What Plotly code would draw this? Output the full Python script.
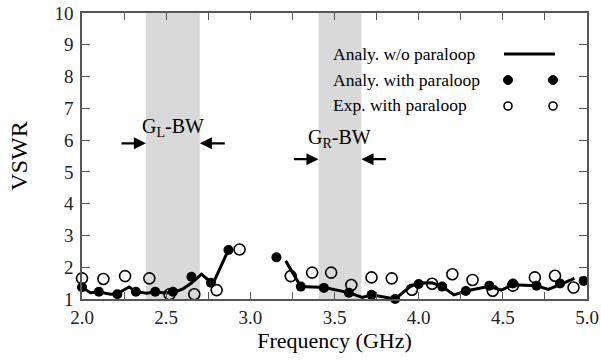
import plotly.graph_objects as go

# ---------------- data ----------------
# Analytical without paraloop (solid line, two segments)
line_left_x = [2.0, 2.05, 2.1, 2.17, 2.21, 2.28, 2.32, 2.385, 2.435, 2.48, 2.54, 2.60, 2.65, 2.71, 2.75, 2.78, 2.87]
line_left_y = [1.37, 1.2, 1.22, 1.15, 1.17, 1.38, 1.23, 1.18, 1.23, 1.2, 1.2, 1.32, 1.5, 1.78, 1.6, 1.5, 2.55]
line_right_x = [3.21, 3.30, 3.44, 3.585, 3.665, 3.72, 3.86, 3.95, 4.0, 4.08, 4.14, 4.21, 4.28, 4.42, 4.49, 4.56, 4.70, 4.77, 4.84, 4.925]
line_right_y = [2.2, 1.39, 1.36, 1.2, 1.05, 1.13, 1.0, 1.39, 1.5, 1.51, 1.39, 1.13, 1.25, 1.4, 1.28, 1.45, 1.42, 1.3, 1.45, 1.65]

# Analytical with paraloop (filled dots)
analy_x = [2.0, 2.10, 2.21, 2.32, 2.435, 2.54, 2.65, 2.766, 2.87, 3.155, 3.30, 3.437, 3.585, 3.72, 3.86,
           4.0, 4.14, 4.28, 4.42, 4.56, 4.70, 4.84, 4.98]
analy_y = [1.37, 1.23, 1.15, 1.23, 1.23, 1.23, 1.70, 1.51, 2.54, 2.31, 1.39, 1.35, 1.2, 1.13, 1.0,
           1.47, 1.39, 1.25, 1.42, 1.49, 1.42, 1.49, 1.57]

# Experiment with paraloop (open circles)
exp_x = [2.0, 2.127, 2.256, 2.40, 2.52, 2.667, 2.80, 2.936, 3.24, 3.367, 3.48, 3.60, 3.72, 3.84, 3.96,
         4.08, 4.20, 4.32, 4.44, 4.56, 4.69, 4.81, 4.92]
exp_y = [1.65, 1.63, 1.72, 1.65, 1.15, 1.15, 1.28, 2.56, 1.72, 1.83, 1.83, 1.44, 1.68, 1.65, 1.29,
         1.48, 1.78, 1.60, 1.26, 1.42, 1.68, 1.73, 1.36]

# Bandwidth regions (GHz)
band_GL = [2.38, 2.70]
band_GR = [3.405, 3.66]

x_tick_vals = [2.0, 2.5, 3.0, 3.5, 4.0, 4.5, 5.0]
x_tick_text = ["2.0", "2.5", "3.0", "3.5", "4.0", "4.5", "5.0"]
y_tick_vals = [1, 2, 3, 4, 5, 6, 7, 8, 9, 10]

legend_labels = ["Analy. w/o paraloop", "Analy. with paraloop", "Exp. with paraloop"]

FONT = "'Liberation Serif', 'Times New Roman', Times, serif"

fig = go.Figure()

# line with a gap
fig.add_trace(go.Scatter(
    x=line_left_x + [None] + line_right_x,
    y=line_left_y + [None] + line_right_y,
    mode="lines", line=dict(color="black", width=3),
    connectgaps=False, showlegend=False, cliponaxis=False))

fig.add_trace(go.Scatter(
    x=exp_x, y=exp_y, mode="markers",
    marker=dict(symbol="circle-open", size=11, color="black", line=dict(width=1.6)),
    showlegend=False, cliponaxis=False))

fig.add_trace(go.Scatter(
    x=analy_x, y=analy_y, mode="markers",
    marker=dict(symbol="circle", size=10, color="black"),
    showlegend=False, cliponaxis=False))

shapes = []
for b in (band_GL, band_GR):
    shapes.append(dict(type="rect", xref="x", yref="paper", x0=b[0], x1=b[1], y0=0, y1=1,
                       fillcolor="#d9d9d9", line=dict(width=0), layer="below"))

# legend keys (paper coords)
px0, px1 = 82, 587
py0, py1 = 299, 13
def pxx(p):
    return (p - px0) / (px1 - px0)
def pyy(p):
    return (py0 - p) / (py0 - py1)

shapes.append(dict(type="line", xref="paper", yref="paper",
                   x0=pxx(504), x1=pxx(555), y0=pyy(54), y1=pyy(54),
                   line=dict(color="black", width=3)))
for cx in (508, 553):
    r = 4.5
    shapes.append(dict(type="circle", xref="paper", yref="paper",
                       x0=pxx(cx - r), x1=pxx(cx + r), y0=pyy(80 + r), y1=pyy(80 - r),
                       fillcolor="black", line=dict(color="black", width=1)))
    r = 4
    shapes.append(dict(type="circle", xref="paper", yref="paper",
                       x0=pxx(cx - r), x1=pxx(cx + r), y0=pyy(106 + r), y1=pyy(106 - r),
                       fillcolor="rgba(0,0,0,0)", line=dict(color="black", width=1.6)))

annotations = []
for lbl, yy in zip(legend_labels, (54, 80, 105)):
    annotations.append(dict(text=lbl, xref="paper", yref="paper", x=pxx(331), y=pyy(yy),
                            xanchor="left", yanchor="middle", showarrow=False,
                            font=dict(family=FONT, size=17.5, color="black")))

# bandwidth arrows
arrow_common = dict(showarrow=True, arrowhead=2, arrowsize=1.1, arrowwidth=2.2,
                    arrowcolor="black", axref="x", ayref="y", xref="x", yref="y", text="")
annotations += [
    dict(x=band_GL[0], y=5.9, ax=2.226, ay=5.9, **arrow_common),
    dict(x=band_GL[1], y=5.9, ax=2.857, ay=5.9, **arrow_common),
    dict(x=band_GR[0], y=5.4, ax=3.25, ay=5.4, **arrow_common),
    dict(x=band_GR[1], y=5.4, ax=3.815, ay=5.4, **arrow_common),
]
annotations += [
    dict(text="G<sub>L</sub>-BW", x=sum(band_GL) / 2, y=6.4, xref="x", yref="y",
         showarrow=False, font=dict(family=FONT, size=20, color="black")),
    dict(text="G<sub>R</sub>-BW", x=sum(band_GR) / 2, y=6.05, xref="x", yref="y",
         showarrow=False, font=dict(family=FONT, size=20, color="black")),
]

axis_color = "#555555"
fig.update_layout(
    width=601, height=363,
    margin=dict(l=82, r=14, t=13, b=64, autoexpand=False),
    plot_bgcolor="white", paper_bgcolor="white",
    shapes=shapes, annotations=annotations,
    font=dict(family=FONT, color="black"),
    xaxis=dict(range=[2.0, 5.0], tickvals=x_tick_vals, ticktext=x_tick_text,
               ticks="inside", ticklen=7, tickwidth=1.3, tickcolor=axis_color,
               minor=dict(dtick=0.25, tick0=2.0, ticks="inside", ticklen=7, tickwidth=1.3,
                          tickcolor=axis_color, showgrid=False),
               showline=True, linecolor=axis_color, linewidth=1.5, mirror="allticks",
               showgrid=False, zeroline=False, automargin=False,
               tickfont=dict(family=FONT, size=19, color="#222"),
               title=dict(text="Frequency (GHz)", font=dict(family=FONT, size=22, color="black"),
                          standoff=6)),
    yaxis=dict(range=[1, 10], tickvals=y_tick_vals,
               ticks="inside", ticklen=8, tickwidth=1.3, tickcolor=axis_color,
               showline=True, linecolor=axis_color, linewidth=1.5, mirror="allticks",
               showgrid=False, zeroline=False, automargin=False, ticklabelstandoff=3,
               tickfont=dict(family=FONT, size=19, color="#222"),
               title=dict(text="VSWR", font=dict(family=FONT, size=24, color="black"),
                          standoff=20)),
)

fig.write_html("out.html", config={"displayModeBar": False},
               post_script="document.body.style.margin='0px';document.body.style.padding='0px';")
